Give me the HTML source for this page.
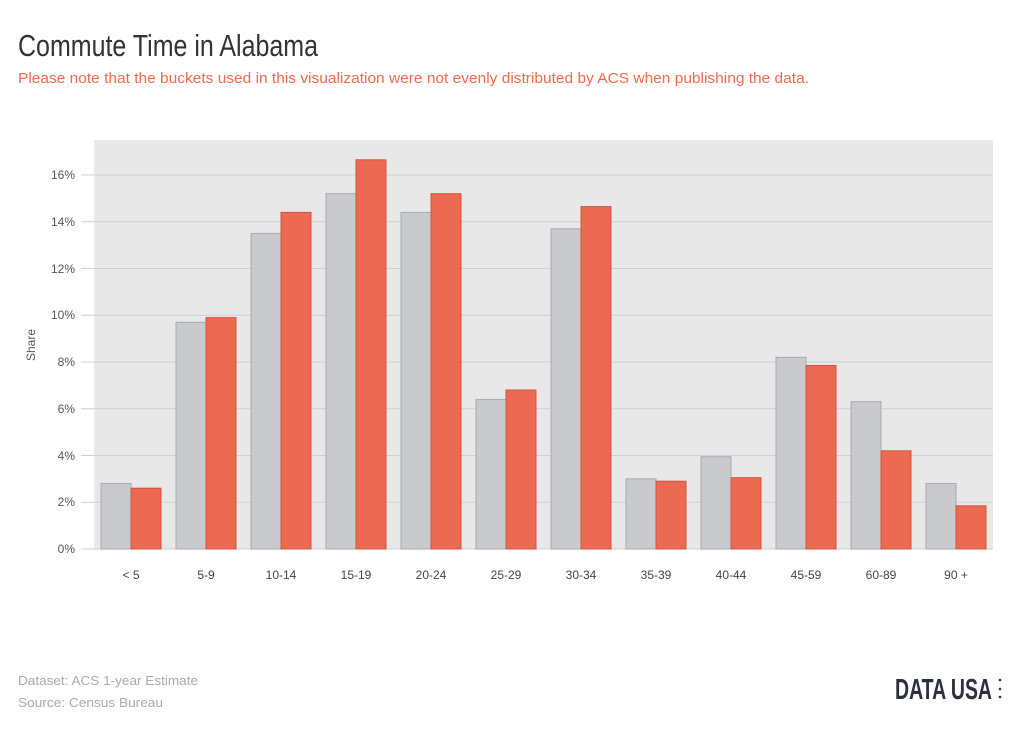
<!DOCTYPE html>
<html><head><meta charset="utf-8"><style>
body{margin:0;background:#fff;width:1024px;height:733px;overflow:hidden;font-family:"Liberation Sans",sans-serif}
</style></head><body>
<svg width="1024" height="733" xmlns="http://www.w3.org/2000/svg" font-family="Liberation Sans, sans-serif">
<text x="18" y="56" font-size="31" fill="#333" textLength="300" lengthAdjust="spacingAndGlyphs">Commute Time in Alabama</text>
<text x="18" y="83" font-size="14.5" fill="#ee6a50" textLength="791" lengthAdjust="spacingAndGlyphs">Please note that the buckets used in this visualization were not evenly distributed by ACS when publishing the data.</text>
<rect x="94" y="140" width="899" height="409" fill="#e8e8e8"/>
<g stroke="#cfcfcf" stroke-width="1">
<line x1="81" x2="993" y1="549" y2="549"/><line x1="81" x2="993" y1="502.25" y2="502.25"/><line x1="81" x2="993" y1="455.5" y2="455.5"/><line x1="81" x2="993" y1="408.75" y2="408.75"/><line x1="81" x2="993" y1="362" y2="362"/><line x1="81" x2="993" y1="315.25" y2="315.25"/><line x1="81" x2="993" y1="268.5" y2="268.5"/><line x1="81" x2="993" y1="221.75" y2="221.75"/><line x1="81" x2="993" y1="175" y2="175"/>
</g>
<g font-size="12" fill="#555" text-anchor="end">
<text x="75" y="553">0%</text><text x="75" y="506">2%</text><text x="75" y="460">4%</text><text x="75" y="413">6%</text><text x="75" y="366">8%</text><text x="75" y="319">10%</text><text x="75" y="273">12%</text><text x="75" y="226">14%</text><text x="75" y="179">16%</text>
</g>
<text transform="translate(35,345) rotate(-90)" font-size="12" fill="#555" text-anchor="middle">Share</text>
<g fill="#c9cacd" stroke="#a9aaad">
<rect x="101" y="483.5" width="30" height="65.5"/><rect x="176" y="322.3" width="30" height="226.7"/><rect x="251" y="233.4" width="30" height="315.6"/><rect x="326" y="193.7" width="30" height="355.3"/><rect x="401" y="212.4" width="30" height="336.6"/><rect x="476" y="399.4" width="30" height="149.6"/><rect x="551" y="228.8" width="30" height="320.2"/><rect x="626" y="478.9" width="30" height="70.1"/><rect x="701" y="456.7" width="30" height="92.3"/><rect x="776" y="357.3" width="30" height="191.7"/><rect x="851" y="401.7" width="30" height="147.3"/><rect x="926" y="483.5" width="30" height="65.5"/>
</g>
<g fill="#ec6a51" stroke="#d0553e">
<rect x="131" y="488.2" width="30" height="60.8"/><rect x="206" y="317.6" width="30" height="231.4"/><rect x="281" y="212.4" width="30" height="336.6"/><rect x="356" y="159.8" width="30" height="389.2"/><rect x="431" y="193.7" width="30" height="355.3"/><rect x="506" y="390" width="30" height="159"/><rect x="581" y="206.6" width="30" height="342.4"/><rect x="656" y="481.2" width="30" height="67.8"/><rect x="731" y="477.7" width="30" height="71.3"/><rect x="806" y="365.5" width="30" height="183.5"/><rect x="881" y="450.8" width="30" height="98.2"/><rect x="956" y="505.8" width="30" height="43.2"/>
</g>
<g font-size="12" fill="#444" text-anchor="middle">
<text x="131" y="579">&lt; 5</text><text x="206" y="579">5-9</text><text x="281" y="579">10-14</text><text x="356" y="579">15-19</text><text x="431" y="579">20-24</text><text x="506" y="579">25-29</text><text x="581" y="579">30-34</text><text x="656" y="579">35-39</text><text x="731" y="579">40-44</text><text x="806" y="579">45-59</text><text x="881" y="579">60-89</text><text x="956" y="579">90 +</text>
</g>
<text x="18" y="685" font-size="13" fill="#aaa" textLength="180" lengthAdjust="spacingAndGlyphs">Dataset: ACS 1-year Estimate</text>
<text x="18" y="707" font-size="13" fill="#aaa" textLength="145" lengthAdjust="spacingAndGlyphs">Source: Census Bureau</text>
<text x="895" y="699" font-size="29" font-weight="bold" fill="#2b3040" textLength="97" lengthAdjust="spacingAndGlyphs">DATA USA</text>
<g fill="#2b3040"><circle cx="1000" cy="680" r="1.3"/><circle cx="1000" cy="689" r="1.3"/><circle cx="1000" cy="697" r="1.3"/></g>
</svg>
</body></html>
